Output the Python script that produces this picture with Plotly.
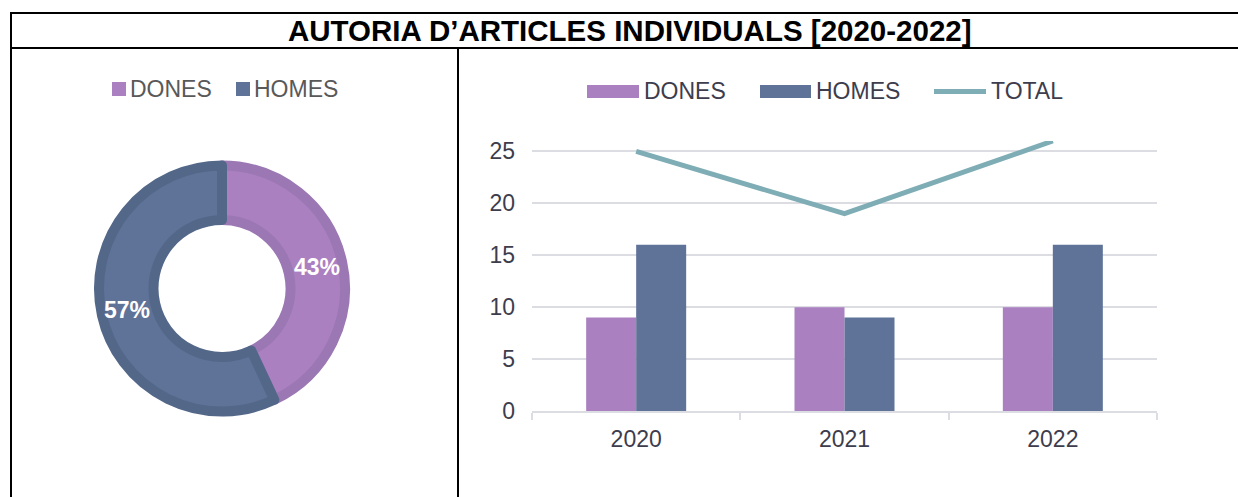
import math
import plotly.graph_objects as go

# ---- data ----
years = ["2020", "2021", "2022"]
dones = [9, 10, 10]
homes = [16, 9, 16]
total = [25, 19, 26]

share_labels = ["DONES", "HOMES"]
share_values = [43, 57]

title_text = "AUTORIA D\u2019ARTICLES INDIVIDUALS [2020-2022]"

# ---- styling ----
W, H = 1238, 497
FONT = "Liberation Sans, Arial, sans-serif"
C_DONES = "#ab80c1"
C_HOMES = "#5f7298"
C_DONES_EDGE = "#9b77b3"
C_HOMES_EDGE = "#536789"
C_TOTAL = "#7fadb5"
C_GRID = "#dcdce3"
C_TXT = "#3d3d4d"
C_TXT_PIE = "#595959"


def px(x):
    return x / W


def py(y):
    return 1 - y / H


fig = go.Figure()

# grouped bars + total line
fig.add_trace(go.Bar(x=years, y=dones, name="DONES", marker_color=C_DONES,
                     marker_line_width=0, showlegend=False))
fig.add_trace(go.Bar(x=years, y=homes, name="HOMES", marker_color=C_HOMES,
                     marker_line_width=0, showlegend=False))
fig.add_trace(go.Scatter(x=years, y=total, name="TOTAL", mode="lines",
                         line=dict(color=C_TOTAL, width=5), showlegend=False))

# donut (percent labels placed at each slice's mid angle below)
pie_cx, pie_cy, pie_r = 222, 288.5, 123
fig.add_trace(go.Pie(
    labels=share_labels, values=share_values, sort=False, direction="clockwise",
    rotation=0, hole=0.557, textinfo="none",
    marker=dict(colors=[C_DONES, C_HOMES],
                line=dict(color=[C_DONES_EDGE, C_HOMES_EDGE], width=10)),
    domain=dict(x=[px(pie_cx - pie_r), px(pie_cx + pie_r)],
                y=[py(pie_cy + pie_r), py(pie_cy - pie_r)]),
    showlegend=False, hoverinfo="label+percent",
))

fig.update_layout(
    width=W, height=H, autosize=False,
    margin=dict(l=0, r=0, t=0, b=0, autoexpand=False),
    paper_bgcolor="white", plot_bgcolor="white",
    font=dict(family=FONT, size=23, color=C_TXT),
    barmode="group", bargap=0.52, bargroupgap=0,
    xaxis=dict(domain=[px(532), px(1157)], showline=True, linecolor=C_GRID,
               linewidth=2, ticks="outside", tickson="boundaries", ticklen=7,
               tickcolor=C_GRID, tickwidth=2, showgrid=False,
               tickfont=dict(size=23, color=C_TXT), ticklabelstandoff=6),
    yaxis=dict(domain=[py(411), py(141)], range=[0, 26], dtick=5,
               showgrid=True, gridcolor=C_GRID, gridwidth=2, zeroline=False,
               showline=False, ticks="", ticklabelstandoff=16,
               tickfont=dict(size=23, color=C_TXT)),
)

shapes = []
annotations = []

# table frame
line_k = dict(color="black", width=2)
shapes += [
    dict(type="line", xref="paper", yref="paper", x0=px(10), x1=1, y0=py(13), y1=py(13), line=line_k),
    dict(type="line", xref="paper", yref="paper", x0=px(10), x1=1, y0=py(48), y1=py(48), line=line_k),
    dict(type="line", xref="paper", yref="paper", x0=px(11), x1=px(11), y0=py(12), y1=0, line=line_k),
    dict(type="line", xref="paper", yref="paper", x0=px(458), x1=px(458), y0=py(48), y1=0, line=line_k),
]

annotations.append(dict(
    text="<b>" + title_text + "</b>", xref="paper", yref="paper",
    x=px(630), y=py(31), xanchor="center", yanchor="middle", showarrow=False,
    font=dict(size=29.5, color="black", family=FONT)))

# percentage labels on the donut ring
total_share = sum(share_values)
start = 0.0
label_r = 97
for v in share_values:
    mid = (start + v / 2) / total_share * 2 * math.pi
    start += v
    lx = pie_cx + label_r * math.sin(mid)
    ly = pie_cy - label_r * math.cos(mid)
    annotations.append(dict(
        text="<b>%d%%</b>" % round(100 * v / total_share), xref="paper", yref="paper",
        x=px(lx), y=py(ly), xanchor="center", yanchor="middle", showarrow=False,
        font=dict(size=23, color="white", family=FONT)))

# donut legend
for lab, col, (x0, x1) in zip(share_labels, [C_DONES, C_HOMES], [(112, 126), (236, 250)]):
    shapes.append(dict(type="rect", xref="paper", yref="paper",
                       x0=px(x0), x1=px(x1), y0=py(96), y1=py(82),
                       fillcolor=col, line=dict(width=0)))
    annotations.append(dict(text=lab, xref="paper", yref="paper", x=px(x1 + 2), y=py(89),
                            xanchor="left", yanchor="middle", showarrow=False,
                            font=dict(size=23, color=C_TXT_PIE)))

# bar chart legend
for lab, col, (x0, x1) in zip(["DONES", "HOMES"], [C_DONES, C_HOMES], [(587, 639), (760, 811)]):
    shapes.append(dict(type="rect", xref="paper", yref="paper",
                       x0=px(x0), x1=px(x1), y0=py(98), y1=py(85),
                       fillcolor=col, line=dict(width=0)))
    annotations.append(dict(text=lab, xref="paper", yref="paper", x=px(x1 + 3), y=py(91),
                            xanchor="left", yanchor="middle", showarrow=False,
                            font=dict(size=23, color=C_TXT)))
shapes.append(dict(type="line", xref="paper", yref="paper", x0=px(934), x1=px(986),
                   y0=py(91.5), y1=py(91.5), line=dict(color=C_TOTAL, width=5)))
annotations.append(dict(text="TOTAL", xref="paper", yref="paper", x=px(989), y=py(91),
                        xanchor="left", yanchor="middle", showarrow=False,
                        font=dict(size=23, color=C_TXT)))

fig.update_layout(shapes=shapes, annotations=annotations)

fig.write_html("out.html", config={"responsive": False})
